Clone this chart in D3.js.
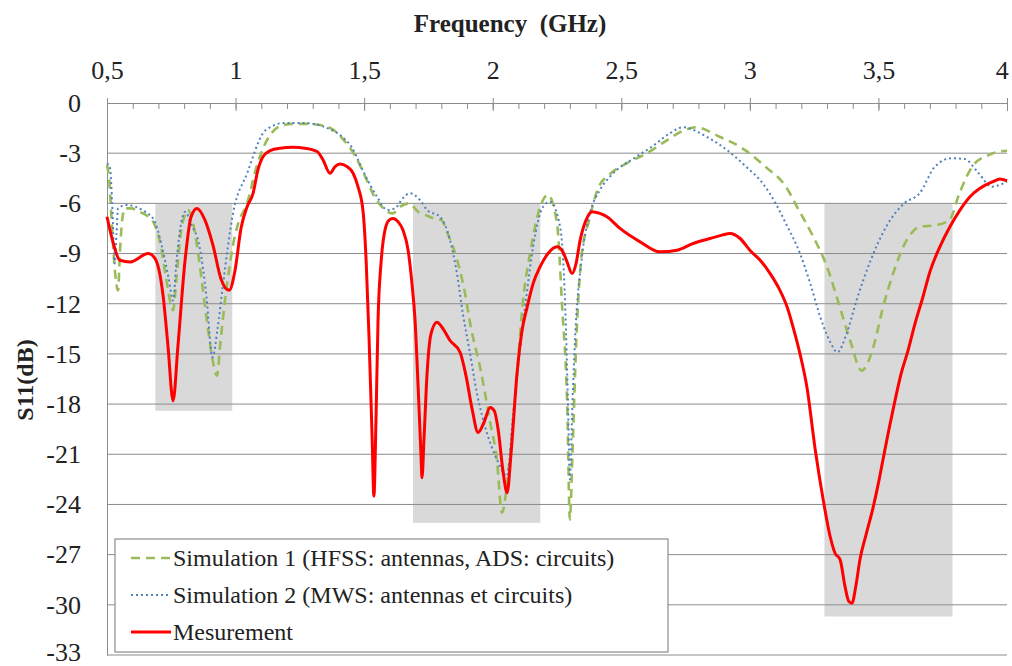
<!DOCTYPE html>
<html>
<head>
<meta charset="utf-8">
<script src="https://cdn.jsdelivr.net/npm/d3@7"></script>
<style>
  body { margin: 0; background: #fff; }
  svg text { font-family: "Liberation Serif", "Times New Roman", Times, "DejaVu Serif", "Noto Serif", serif; fill: #222; }
</style>
</head>
<body>
<svg id="chart" width="1012" height="666"></svg>
<script>
// x ticks (GHz) and y ticks (dB)
const xTicks = [0.5, 1, 1.5, 2, 2.5, 3, 3.5, 4];
const yTicks = [0, -3, -6, -9, -12, -15, -18, -21, -24, -27, -30, -33];

// highlighted bands: [f1, f2, topdB, bottomdB]
const bands = [
  [0.688, 0.987, -6, -18.4],
  [1.69, 2.185, -6, -25.1],
  [3.29, 3.788, -6, -30.7]
];

// Simulation 1 (HFSS: antennas, ADS: circuits)
const sim1 = [
  [0.5,-3.7],[0.508,-4.5],[0.518,-7.0],[0.528,-9.5],[0.543,-11.2],[0.55,-9.0],[0.559,-7.0],[0.57,-6.3],
  [0.594,-6.3],[0.625,-6.5],[0.652,-6.7],[0.683,-7.2],[0.71,-8.6],[0.73,-10.5],[0.745,-11.8],[0.757,-12.4],
  [0.77,-10.5],[0.785,-8.0],[0.8,-6.8],[0.815,-6.4],[0.83,-6.9],[0.85,-8.5],[0.87,-10.8],[0.89,-13.2],
  [0.91,-15.3],[0.928,-16.3],[0.94,-14.5],[0.955,-12.3],[0.97,-10.5],[0.99,-8.5],[1.01,-7.2],[1.045,-6.0],
  [1.08,-3.9],[1.11,-2.6],[1.14,-1.8],[1.17,-1.4],[1.22,-1.25],[1.28,-1.25],[1.34,-1.35],[1.38,-1.6],
  [1.42,-2.2],[1.45,-2.8],[1.48,-3.6],[1.51,-4.6],[1.54,-5.6],[1.575,-6.3],[1.61,-6.6],[1.64,-6.2],
  [1.675,-6.0],[1.71,-6.5],[1.74,-6.7],[1.77,-6.9],[1.8,-7.0],[1.83,-8.0],[1.85,-8.8],[1.89,-11.2],
  [1.915,-13.4],[1.955,-16.1],[1.99,-19.1],[2.016,-21.3],[2.036,-24.5],[2.05,-23.5],[2.066,-21.3],
  [2.095,-16.1],[2.118,-11.8],[2.145,-9.0],[2.185,-6.2],[2.215,-5.5],[2.25,-7.2],[2.27,-12.2],
  [2.29,-18.2],[2.3,-24.9],[2.31,-21.0],[2.325,-14.2],[2.345,-9.2],[2.375,-7.0],[2.41,-5.1],[2.46,-4.2],
  [2.522,-3.6],[2.6,-3.0],[2.66,-2.4],[2.75,-1.6],[2.79,-1.45],[2.88,-2.0],[2.98,-2.8],[3.06,-3.8],
  [3.14,-5.0],[3.19,-6.4],[3.24,-7.8],[3.3,-9.8],[3.35,-12.2],[3.39,-14.2],[3.435,-16.0],[3.48,-14.6],
  [3.518,-12.2],[3.557,-10.2],[3.61,-8.2],[3.66,-7.4],[3.725,-7.3],[3.776,-7.0],[3.815,-5.4],
  [3.865,-3.8],[3.93,-3.1],[3.97,-2.9],[4.0,-2.85]
];

// Simulation 2 (MWS: antennas et circuits)
const sim2 = [
  [0.5,-3.6],[0.512,-3.9],[0.52,-6.0],[0.53,-9.6],[0.537,-7.8],[0.543,-6.3],[0.575,-6.1],[0.637,-6.4],
  [0.683,-7.0],[0.714,-8.6],[0.74,-10.5],[0.757,-11.8],[0.77,-9.5],[0.788,-7.2],[0.805,-6.5],[0.825,-7.2],
  [0.86,-8.6],[0.887,-11.6],[0.91,-15.2],[0.93,-13.5],[0.95,-11.0],[0.99,-6.6],[1.045,-4.2],[1.107,-1.8],
  [1.14,-1.4],[1.185,-1.2],[1.27,-1.2],[1.34,-1.4],[1.42,-2.1],[1.45,-2.6],[1.5,-4.2],[1.55,-5.6],
  [1.59,-6.4],[1.62,-6.3],[1.65,-5.7],[1.678,-5.4],[1.717,-5.8],[1.745,-6.4],[1.795,-6.8],[1.834,-8.2],
  [1.861,-10.2],[1.884,-12.6],[1.911,-14.9],[1.938,-17.3],[1.977,-19.7],[2.016,-21.3],[2.055,-22.3],
  [2.08,-18.5],[2.107,-14.6],[2.134,-11.2],[2.157,-8.6],[2.196,-6.2],[2.223,-5.9],[2.262,-7.4],
  [2.282,-12.2],[2.293,-18.2],[2.3,-22.5],[2.31,-18.0],[2.32,-14.2],[2.347,-9.2],[2.378,-6.6],
  [2.417,-5.2],[2.456,-4.4],[2.56,-3.2],[2.62,-2.6],[2.69,-1.8],[2.74,-1.45],[2.83,-2.0],[2.91,-2.8],
  [2.985,-3.8],[3.05,-4.8],[3.1,-6.0],[3.14,-7.2],[3.195,-9.0],[3.235,-10.8],[3.274,-12.8],[3.313,-14.3],
  [3.34,-14.9],[3.376,-13.8],[3.415,-11.8],[3.47,-9.4],[3.53,-7.4],[3.6,-6.0],[3.66,-5.4],[3.72,-3.8],
  [3.785,-3.3],[3.835,-3.35],[3.89,-4.2],[3.94,-5.0],[4.0,-4.7]
];

// Mesurement
const mesure = [
  [0.5,-6.8],[0.523,-8.3],[0.55,-9.4],[0.59,-9.5],[0.66,-9.0],[0.687,-9.3],[0.718,-11.5],[0.737,-14.5],
  [0.757,-17.8],[0.776,-14.5],[0.803,-9.5],[0.827,-6.8],[0.85,-6.3],[0.881,-7.0],[0.912,-8.5],[0.943,-10.5],
  [0.975,-11.2],[0.998,-10.0],[1.021,-7.5],[1.045,-6.2],[1.068,-5.4],[1.087,-4.0],[1.107,-3.2],[1.134,-2.85],
  [1.173,-2.7],[1.223,-2.65],[1.27,-2.7],[1.317,-2.9],[1.34,-3.4],[1.367,-4.2],[1.387,-3.8],[1.406,-3.65],
  [1.433,-3.8],[1.457,-4.2],[1.476,-5.0],[1.496,-6.5],[1.508,-9.5],[1.519,-14],[1.531,-20],[1.538,-23.5],
  [1.546,-19],[1.554,-13],[1.566,-9.5],[1.581,-7.6],[1.597,-7.0],[1.612,-6.9],[1.632,-7.1],[1.651,-7.6],
  [1.671,-8.8],[1.686,-10.8],[1.698,-13],[1.71,-17],[1.721,-21],[1.725,-22.4],[1.733,-20],[1.745,-16.1],
  [1.76,-13.8],[1.783,-13.1],[1.807,-13.5],[1.834,-14.2],[1.873,-14.9],[1.896,-16.3],[1.92,-18.3],
  [1.943,-19.7],[1.966,-19.1],[1.99,-18.2],[2.006,-18.4],[2.021,-19.5],[2.04,-22],[2.056,-23.3],
  [2.071,-21],[2.095,-16.1],[2.114,-13.6],[2.134,-12.2],[2.157,-10.8],[2.184,-9.8],[2.215,-9.0],
  [2.25,-8.6],[2.273,-8.9],[2.289,-9.5],[2.309,-10.2],[2.324,-9.6],[2.34,-8.2],[2.363,-7.0],[2.386,-6.5],
  [2.417,-6.6],[2.444,-6.8],[2.495,-7.5],[2.573,-8.3],[2.65,-8.9],[2.717,-8.8],[2.779,-8.4],[2.845,-8.1],
  [2.892,-7.9],[2.923,-7.8],[2.962,-8.1],[3.0,-8.8],[3.04,-9.4],[3.079,-10.2],[3.117,-11.2],[3.145,-12.2],
  [3.168,-13.4],[3.195,-15.0],[3.222,-17.0],[3.254,-20.7],[3.285,-23.7],[3.312,-25.9],[3.331,-26.9],
  [3.351,-27.3],[3.37,-28.9],[3.385,-29.8],[3.397,-29.9],[3.413,-28.8],[3.428,-27.3],[3.452,-25.8],
  [3.479,-24.2],[3.499,-22.8],[3.518,-21.3],[3.541,-19.5],[3.565,-17.75],[3.588,-16.2],[3.615,-14.8],
  [3.642,-13.2],[3.673,-11.6],[3.7,-10.1],[3.739,-8.6],[3.778,-7.4],[3.817,-6.4],[3.856,-5.6],
  [3.895,-5.1],[3.945,-4.7],[3.973,-4.55],[4.0,-4.65]
];

const legendLabels = [
  "Simulation 1 (HFSS: antennas, ADS: circuits)",
  "Simulation 2 (MWS: antennas et circuits)",
  "Mesurement"
];

const serif = '"Liberation Serif", "Times New Roman", Times, "DejaVu Serif", "Noto Serif", serif';

const margin = {top: 103, left: 107, right: 5, bottom: 10};
const width = 1007 - margin.left;
const height = 655 - margin.top;

const svg = d3.select("#chart");
const g = svg.append("g").attr("transform", "translate(" + margin.left + "," + margin.top + ")");

const x = d3.scaleLinear().domain([0.5, 4]).range([0, width]);
const y = d3.scaleLinear().domain([0, -33]).range([0, height]);

const fmt = d => String(d).replace(".", ",");

// grey bands
g.selectAll("rect.band").data(bands).enter().append("rect")
  .attr("class", "band")
  .attr("x", d => x(d[0]))
  .attr("width", d => x(d[1]) - x(d[0]))
  .attr("y", d => y(d[2]))
  .attr("height", d => y(d[3]) - y(d[2]))
  .attr("fill", "#d9d9d9");

// horizontal gridlines
g.selectAll("line.grid").data(yTicks.slice(1)).enter().append("line")
  .attr("x1", 0).attr("x2", width)
  .attr("y1", d => y(d)).attr("y2", d => y(d))
  .attr("stroke", "#8c8c8c").attr("stroke-width", 1);

// left axis
g.append("g")
  .call(d3.axisLeft(y).tickValues(yTicks).tickSize(0).tickPadding(26).tickFormat(d => d))
  .call(a => a.select(".domain").attr("stroke", "#8c8c8c"))
  .call(a => a.selectAll("text").style("font-size", "26px")
    .style("font-family", serif).attr("fill", "#222"))
  .call(a => a.selectAll("text").filter(d => d === -33).attr("dy", "0.2em"));

// top axis
g.append("g")
  .call(d3.axisTop(x).ticks(35).tickSize(0).tickFormat(""))
  .call(a => a.select(".domain").attr("stroke", "#8c8c8c"))
  .call(a => a.selectAll(".tick line").attr("y1", 0).attr("y2", 6).attr("stroke", "#8c8c8c"));
g.append("g")
  .call(d3.axisTop(x).tickValues(xTicks).tickSize(0).tickPadding(42).tickFormat(fmt))
  .call(a => a.select(".domain").remove())
  .call(a => a.selectAll(".tick line").attr("y1", -5).attr("y2", 8).attr("stroke", "#8c8c8c"))
  .call(a => a.selectAll("text").attr("dy", "0.7em").style("font-size", "26px")
    .style("font-family", serif).attr("fill", "#222"))
  .call(a => a.selectAll("text").filter(d => d === 4).attr("dx", "-0.2em"));

// lines
const line = d3.line().x(d => x(d[0])).y(d => y(d[1])).curve(d3.curveMonotoneX);

g.append("path").datum(sim1).attr("d", line).attr("fill", "none")
  .attr("stroke", "#9bbb59").attr("stroke-width", 2.6).attr("stroke-dasharray", "9,6");
g.append("path").datum(sim2).attr("d", line).attr("fill", "none")
  .attr("stroke", "#4f81bd").attr("stroke-width", 2).attr("stroke-dasharray", "2,3");
g.append("path").datum(mesure).attr("d", line).attr("fill", "none")
  .attr("stroke", "#ff0000").attr("stroke-width", 3).attr("stroke-linejoin", "round");

// titles
svg.append("text").attr("x", 510).attr("y", 32).attr("text-anchor", "middle")
  .style("font-family", serif)
  .style("font-size", "25px").style("font-weight", "bold").attr("xml:space", "preserve")
  .text("Frequency  (GHz)");
svg.append("text").attr("transform", "translate(33,380) rotate(-90)").attr("text-anchor", "middle")
  .style("font-family", serif)
  .style("font-size", "24px").style("font-weight", "bold").text("S11(dB)");

// legend
const lg = svg.append("g").attr("transform", "translate(115,539)");
lg.append("rect").attr("width", 553).attr("height", 113).attr("fill", "#fff")
  .attr("stroke", "#8c8c8c").attr("stroke-width", 1.2);
const styles = [
  {c: "#9bbb59", w: 2.6, dash: "9,6"},
  {c: "#4f81bd", w: 2, dash: "2,3"},
  {c: "#ff0000", w: 3, dash: null}
];
legendLabels.forEach((t, i) => {
  const yy = 19 + i * 37;
  lg.append("line").attr("x1", 16).attr("x2", 56).attr("y1", yy).attr("y2", yy)
    .attr("stroke", styles[i].c).attr("stroke-width", styles[i].w)
    .attr("stroke-dasharray", styles[i].dash);
  lg.append("text").attr("x", 58).attr("y", yy + 8).style("font-family", serif)
    .style("font-size", "24px").text(t);
});
</script>
</body>
</html>
